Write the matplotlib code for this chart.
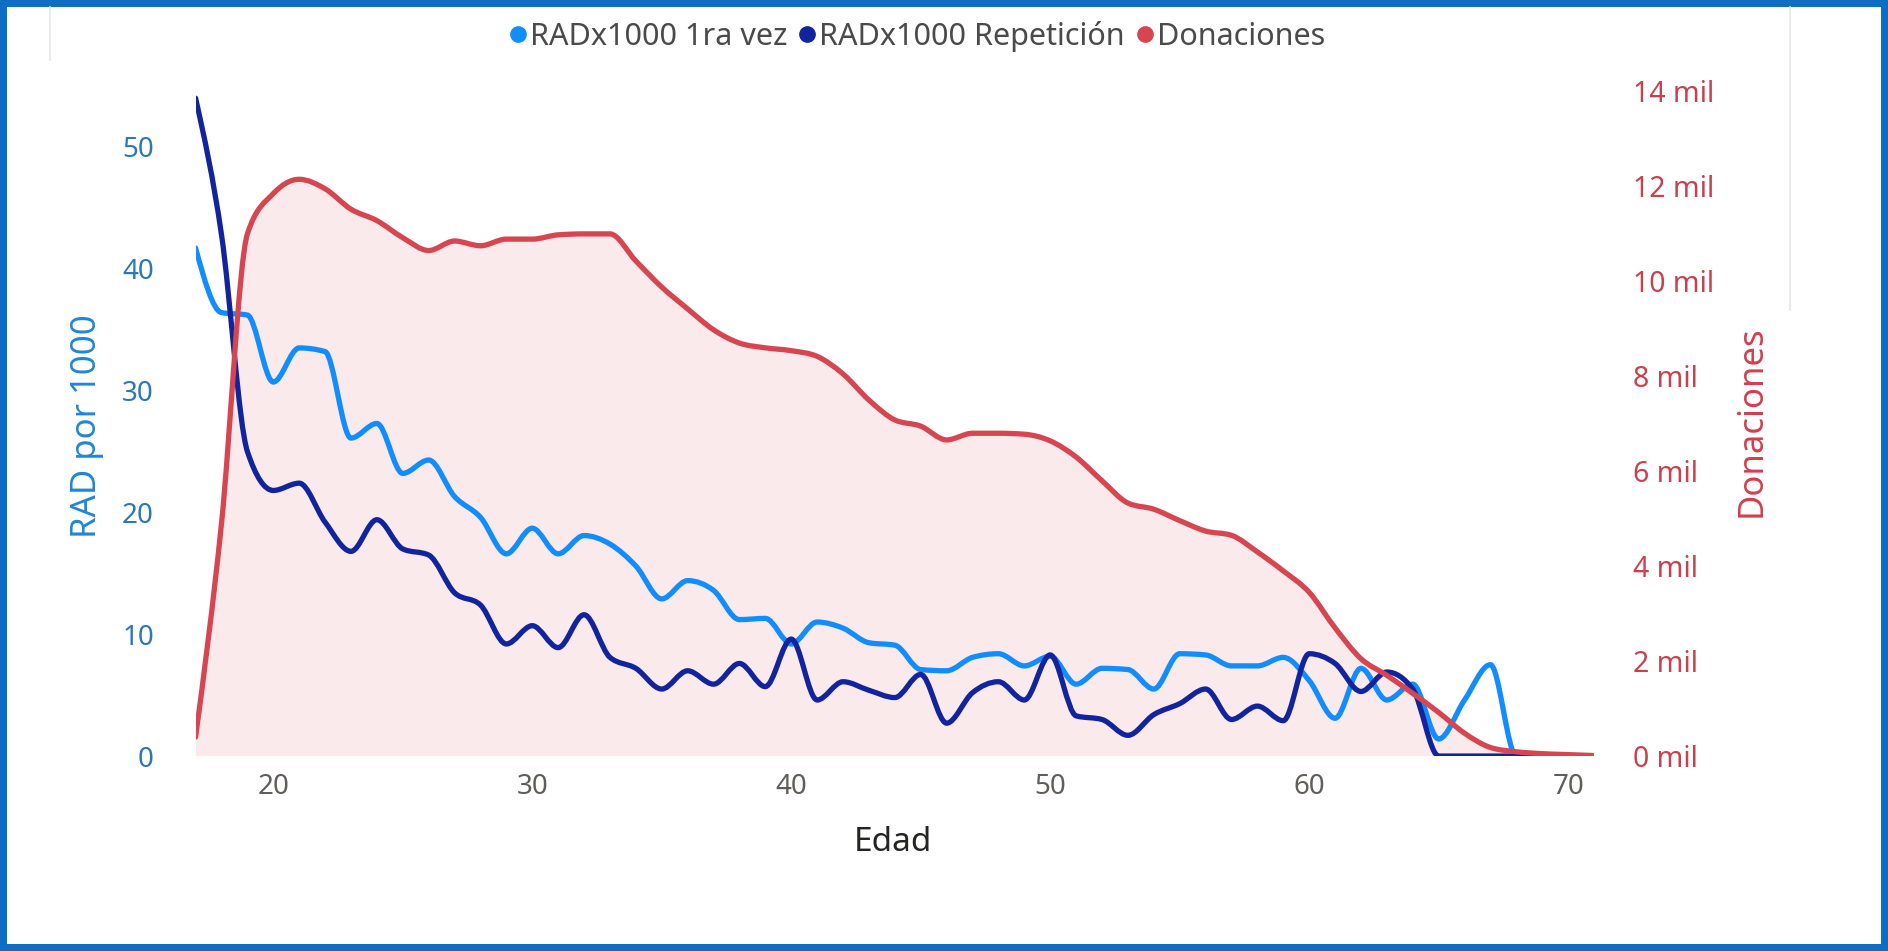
import numpy as np
import matplotlib
matplotlib.use('Agg')
import matplotlib.pyplot as plt
from matplotlib.path import Path
from matplotlib.patches import PathPatch
from matplotlib.lines import Line2D

plt.rcParams['font.family'] = ['Noto Sans', 'DejaVu Sans']

# edades (eje x)
edades = list(range(17, 72))

# RAD por 1000, primera vez (eje izquierdo)
rad_1ra_vez = [41.7, 36.4, 36.2, 30.7, 33.5, 33.2, 26.1, 27.3, 23.2, 24.3,
               21.3, 19.6, 16.6, 18.7, 16.6, 18.1, 17.4, 15.6, 12.9, 14.4,
               13.6, 11.2, 11.3, 9.2, 11.0, 10.5, 9.3, 9.1, 7.1, 7.0,
               8.1, 8.4, 7.4, 8.2, 5.9, 7.2, 7.1, 5.5, 8.4, 8.3,
               7.4, 7.4, 8.1, 6.2, 3.1, 7.2, 4.6, 5.9, 1.4, 4.6,
               7.5, 0.0, 0.0, 0.0, 0.0]

# RAD por 1000, repeticion (eje izquierdo)
rad_repeticion = [54.0, 42.8, 25.0, 21.8, 22.4, 19.2, 16.8, 19.4, 17.0, 16.5,
                  13.4, 12.4, 9.2, 10.7, 8.9, 11.6, 8.1, 7.2, 5.5, 7.0,
                  5.9, 7.6, 5.7, 9.6, 4.6, 6.1, 5.4, 4.8, 6.7, 2.7,
                  5.2, 6.1, 4.6, 8.3, 3.3, 3.0, 1.7, 3.4, 4.3, 5.5,
                  3.0, 4.1, 2.9, 8.4, 7.6, 5.3, 6.9, 5.5, 0.0, 0.0,
                  0.0, 0.0, 0.0, 0.0, 0.0]

# donaciones (eje derecho)
donaciones = [400, 4900, 11000, 11850, 12150, 11950, 11520, 11280, 10920, 10650,
              10850, 10750, 10890, 10890, 10980, 11000, 11000, 10430, 9880, 9420,
              8980, 8700, 8600, 8540, 8420, 8050, 7500, 7080, 6950, 6660,
              6800, 6800, 6780, 6640, 6300, 5800, 5330, 5200, 4960, 4740,
              4650, 4300, 3900, 3450, 2700, 2050, 1700, 1320, 920, 480,
              180, 90, 50, 30, 10]

c_claro = '#118DFF'
c_oscuro = '#12239E'
c_rojo = '#D64550'


def pendientes(x, y):
    # tangentes tipo "monotone X" (como la linea suavizada de Power BI)
    x = np.asarray(x, float)
    y = np.asarray(y, float)
    n = len(x)
    m = np.zeros(n)
    for i in range(1, n - 1):
        h0 = x[i] - x[i - 1]
        h1 = x[i + 1] - x[i]
        s0 = (y[i] - y[i - 1]) / h0
        s1 = (y[i + 1] - y[i]) / h1
        p = (s0 * h1 + s1 * h0) / (h0 + h1)
        m[i] = (np.sign(s0) + np.sign(s1)) * min(abs(s0), abs(s1), 0.5 * abs(p))
    m[0] = (3 * (y[1] - y[0]) / (x[1] - x[0]) - m[1]) / 2
    m[-1] = (3 * (y[-1] - y[-2]) / (x[-1] - x[-2]) - m[-2]) / 2
    return m


def camino_suave(x, y, cerrar=False):
    m = pendientes(x, y)
    verts = [(x[0], y[0])]
    codes = [Path.MOVETO]
    for i in range(len(x) - 1):
        h = x[i + 1] - x[i]
        verts += [(x[i] + h / 3, y[i] + m[i] * h / 3),
                  (x[i + 1] - h / 3, y[i + 1] - m[i + 1] * h / 3),
                  (x[i + 1], y[i + 1])]
        codes += [Path.CURVE4] * 3
    if cerrar:
        verts += [(x[-1], 0), (x[0], 0), (x[0], 0)]
        codes += [Path.LINETO, Path.LINETO, Path.CLOSEPOLY]
    return Path(verts, codes)


fig = plt.figure(figsize=(18.88, 9.51), dpi=100)
fig.patch.set_edgecolor('#0E6EC5')
fig.patch.set_linewidth(10)

ax = fig.add_axes([0.1036, 0.205, 0.7407, 0.6988])
ax2 = ax.twinx()
ax.set_zorder(ax2.get_zorder() + 1)
ax.patch.set_visible(False)

# area de donaciones (detras)
ax2.add_patch(PathPatch(camino_suave(edades, donaciones, cerrar=True),
                        facecolor=c_rojo, alpha=0.11, edgecolor='none'))

# lineas RAD
ax.add_patch(PathPatch(camino_suave(edades, rad_1ra_vez), fill=False,
                       edgecolor=c_claro, lw=3.8, capstyle='round', joinstyle='round', zorder=3))
ax.add_patch(PathPatch(camino_suave(edades, rad_repeticion), fill=False,
                       edgecolor=c_oscuro, lw=3.8, capstyle='round', joinstyle='round', zorder=4))
# linea de donaciones encima, con la escala del eje derecho
ax.add_patch(PathPatch(camino_suave(edades, donaciones), fill=False, transform=ax2.transData,
                       edgecolor=c_rojo, lw=3.8, capstyle='round', joinstyle='round', zorder=5))

ax.set_xlim(17, 71)
ax.set_ylim(0, 54.55)
ax2.set_ylim(0, 14000)

for a in (ax, ax2):
    for s in a.spines.values():
        s.set_visible(False)

ax.set_xticks([20, 30, 40, 50, 60, 70])
ax.set_yticks([0, 10, 20, 30, 40, 50])
ax2.set_yticks(range(0, 14001, 2000))
ax2.set_yticklabels([f'{v // 1000} mil' for v in range(0, 14001, 2000)])

ax.tick_params(axis='x', length=0, pad=12, labelsize=20, labelcolor='#605E5C')
ax.tick_params(axis='y', length=0, pad=30, labelsize=20, labelcolor='#2B77B8')
ax2.tick_params(axis='y', length=0, pad=28, labelsize=20.5, labelcolor='#C7424F')

ax.set_xlabel('Edad', fontsize=24, color='#252423')
ax.xaxis.set_label_coords(0.499, -0.106)
ax.set_ylabel('RAD por 1000', fontsize=25, color='#1F86D6', va='center')
ax.yaxis.set_label_coords(-0.078, 0.497)
ax2.set_ylabel('Donaciones', fontsize=25, color='#D0404E', va='center', rotation=90)
ax2.yaxis.set_label_coords(1.113, 0.504)

handles = [Line2D([], [], marker='o', ls='none', ms=11, color=c) for c in (c_claro, c_oscuro, c_rojo)]
fig.legend(handles, ['RADx1000 1ra vez', 'RADx1000 Repetición', 'Donaciones'],
           loc='center', bbox_to_anchor=(0.486, 0.962), ncol=3, frameon=False,
           fontsize=22, handlelength=0.5, handletextpad=0.15, columnspacing=0.4,
           labelcolor='#4A4A4A')

# lineas grises tenues del marco del visual
fig.add_artist(Line2D([50 / 1888, 50 / 1888], [1 - 7 / 951, 1 - 60 / 951], color='#E6E6E6', lw=1.2))
fig.add_artist(Line2D([1790 / 1888, 1790 / 1888], [1 - 7 / 951, 1 - 310 / 951], color='#E6E6E6', lw=1.2))

fig.savefig('out.png', dpi=100)
